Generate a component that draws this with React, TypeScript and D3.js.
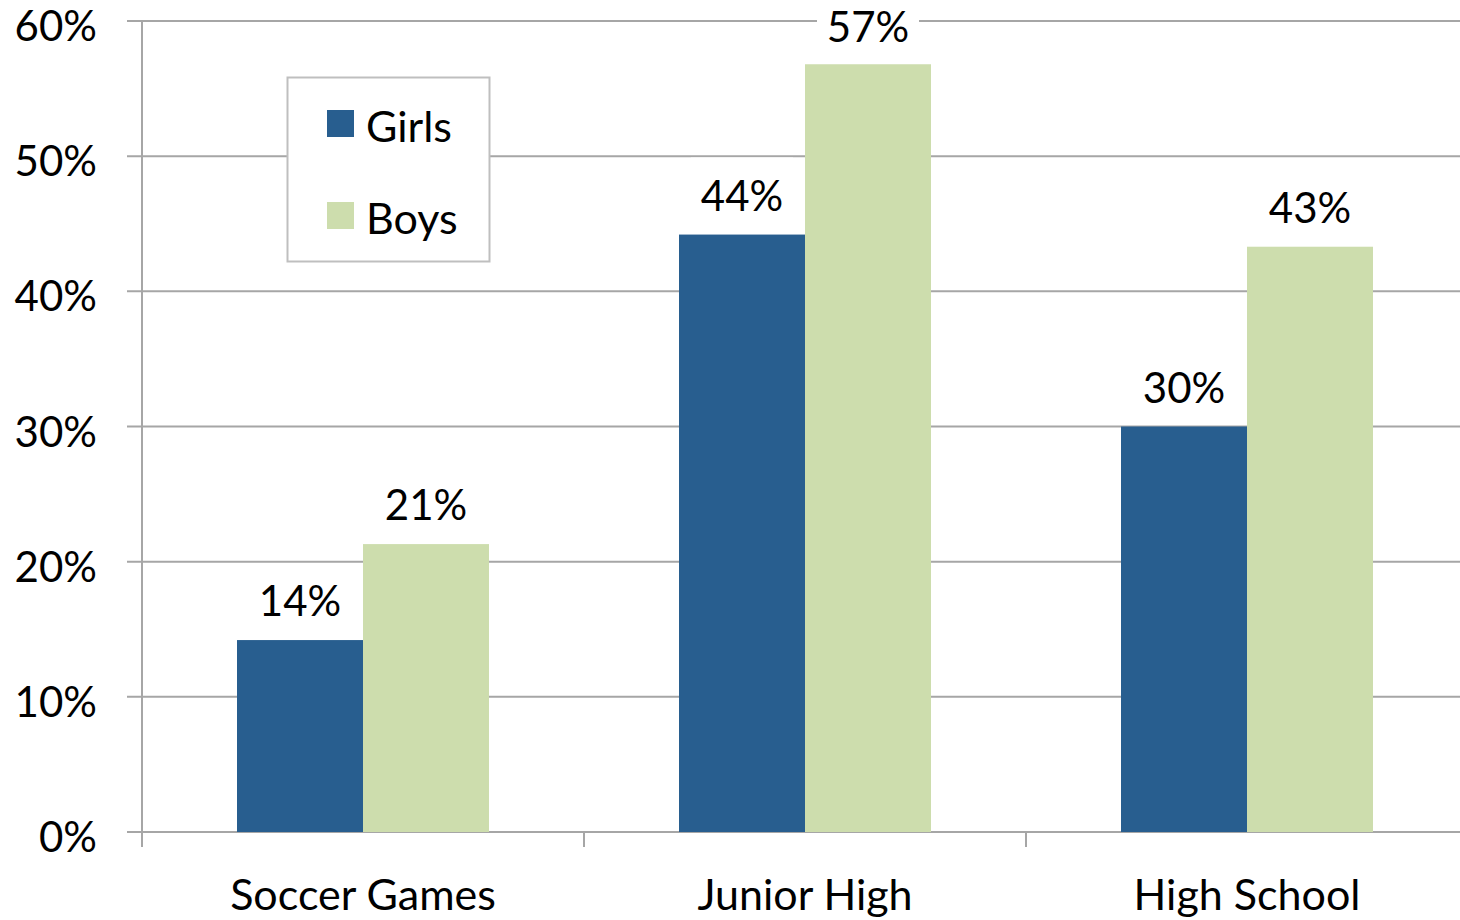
import React from 'react';
import * as d3 from 'd3';

const categories = ['Soccer Games', 'Junior High', 'High School'];
const series = ['Girls', 'Boys'];
const girls = [0.142, 0.442, 0.30];
const boys = [0.213, 0.568, 0.433];
const yTicks = [0, 0.1, 0.2, 0.3, 0.4, 0.5, 0.6];

const colors: Record<string, string> = { Girls: '#285E8F', Boys: '#CDDDAD' };
const FONT = 'Lato, "Open Sans", sans-serif';
const GRID = '#A6A6A6';

const W = 1460;
const H = 920;

const App: React.FC = () => {
  const y = d3.scaleLinear().domain([0, 0.6]).range([832, 21]);
  const x0 = d3.scaleBand<string>().domain(categories).range([142, 1468]).padding(0);
  const x1 = d3
    .scaleBand<string>()
    .domain(series)
    .range([0, x0.bandwidth()])
    .paddingInner(0)
    .paddingOuter(0.754);

  const values: Record<string, number[]> = { Girls: girls, Boys: boys };
  const pct = d3.format('.0%');

  return (
    <svg
      width={W}
      height={H}
      style={{ position: 'absolute', left: 0, top: 0, background: '#fff' }}
      fontFamily={FONT}
    >
      {/* gridlines + y tick labels */}
      {yTicks.map((t) => (
        <g key={t}>
          <line x1={127} x2={1460} y1={y(t)} y2={y(t)} stroke={GRID} strokeWidth={2} />
          <text x={97} y={y(t) + 20} textAnchor="end" fontSize={42} fill="#000">
            {pct(t)}
          </text>
        </g>
      ))}

      {/* y axis */}
      <line x1={142} x2={142} y1={21} y2={832} stroke={GRID} strokeWidth={2} />

      {/* x ticks */}
      {categories.map((c) => (
        <line key={c} x1={x0(c)!} x2={x0(c)!} y1={832} y2={847} stroke={GRID} strokeWidth={2} />
      ))}

      {/* bars */}
      {categories.map((c, i) => (
        <g key={c} transform={`translate(${x0(c)},0)`}>
          {series.map((s) => {
            const v = values[s][i];
            return (
              <rect
                key={s}
                x={x1(s)!}
                y={y(v)}
                width={x1.bandwidth()}
                height={y(0) - y(v)}
                fill={colors[s]}
              />
            );
          })}
        </g>
      ))}

      {/* data labels */}
      {categories.map((c, i) => (
        <g key={c} transform={`translate(${x0(c)},0)`}>
          {series.map((s) => {
            const v = values[s][i];
            const cx = x1(s)! + x1.bandwidth() / 2;
            const base = Math.max(y(v) - 24, 42);
            return (
              <g key={s}>
                <rect x={cx - 51} y={Math.max(base - 53, 0)} width={102} height={Math.min(64, base + 11)} fill="#fff" />
                <text x={cx} y={base} textAnchor="middle" fontSize={42} fill="#000">
                  {pct(v)}
                </text>
              </g>
            );
          })}
        </g>
      ))}

      {/* category labels */}
      {categories.map((c) => (
        <text
          key={c}
          x={x0(c)! + x0.bandwidth() / 2}
          y={910}
          textAnchor="middle"
          fontSize={43}
          fill="#000"
        >
          {c}
        </text>
      ))}

      {/* legend */}
      <g>
        <rect x={287.5} y={77.5} width={202} height={184} fill="#fff" stroke="#BFBFBF" strokeWidth={2} />
        {series.map((s, i) => (
          <g key={s} transform={`translate(327,${110 + i * 92})`}>
            <rect x={0} y={0} width={27} height={27} fill={colors[s]} />
            <text x={39} y={32} fontSize={43} fill="#000">
              {s}
            </text>
          </g>
        ))}
      </g>
    </svg>
  );
};

export default App;
